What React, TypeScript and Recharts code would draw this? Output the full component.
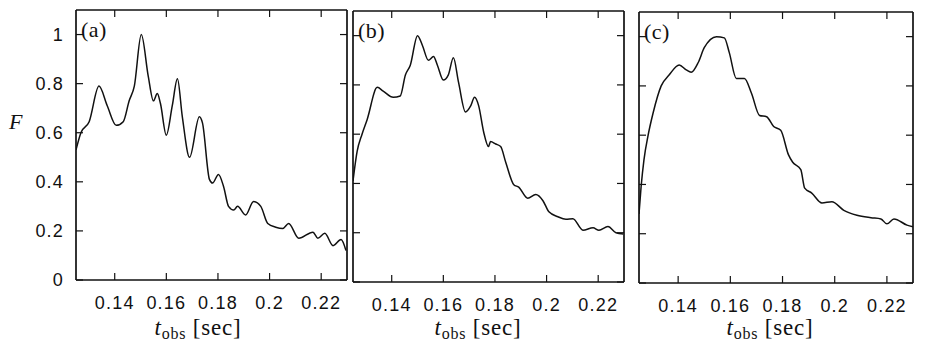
import React from "react";
import { LineChart, Line, XAxis, YAxis } from "recharts";

// panel (a)
const tA = [0.125, 0.1269, 0.1301, 0.1339, 0.1371, 0.1406, 0.1433, 0.1456, 0.1476, 0.1503, 0.153, 0.155, 0.1565, 0.1577, 0.16, 0.1623, 0.1643, 0.1662, 0.169, 0.1728, 0.174, 0.1767, 0.1779, 0.1802, 0.1822, 0.1841, 0.1861, 0.1876, 0.1907, 0.1938, 0.1966, 0.1993, 0.2024, 0.2051, 0.2074, 0.2113, 0.2168, 0.2187, 0.2214, 0.2246, 0.2277, 0.2296];
const fA = [0.53, 0.6, 0.645, 0.79, 0.71, 0.63, 0.645, 0.73, 0.79, 1.0, 0.83, 0.73, 0.76, 0.72, 0.59, 0.71, 0.82, 0.665, 0.5, 0.665, 0.64, 0.41, 0.395, 0.43, 0.38, 0.3, 0.285, 0.3, 0.265, 0.32, 0.3, 0.23, 0.215, 0.21, 0.23, 0.17, 0.195, 0.17, 0.19, 0.14, 0.165, 0.12];

// panel (b)
const tB = [0.125, 0.1266, 0.1285, 0.1305, 0.1344, 0.1367, 0.1406, 0.1433, 0.1453, 0.1472, 0.15, 0.1519, 0.1542, 0.1562, 0.1577, 0.16, 0.1619, 0.1639, 0.1659, 0.1686, 0.1706, 0.1721, 0.1737, 0.1756, 0.1775, 0.1783, 0.1803, 0.1822, 0.1842, 0.1873, 0.1892, 0.1927, 0.1958, 0.1986, 0.2009, 0.2044, 0.2075, 0.2102, 0.2141, 0.218, 0.2203, 0.2238, 0.2269, 0.2297];
const fB = [0.41, 0.53, 0.6, 0.66, 0.79, 0.775, 0.75, 0.755, 0.84, 0.88, 1.0, 0.96, 0.9, 0.915, 0.88, 0.82, 0.84, 0.91, 0.81, 0.69, 0.715, 0.75, 0.715, 0.61, 0.55, 0.57, 0.56, 0.55, 0.485, 0.395, 0.385, 0.34, 0.355, 0.33, 0.285, 0.265, 0.255, 0.257, 0.21, 0.22, 0.21, 0.225, 0.2, 0.195];

// panel (c)
const tC = [0.125, 0.1258, 0.1269, 0.1285, 0.1304, 0.1335, 0.1366, 0.1404, 0.1431, 0.145, 0.1477, 0.15, 0.1547, 0.1577, 0.1596, 0.1623, 0.1654, 0.1681, 0.1712, 0.1739, 0.1766, 0.1793, 0.1823, 0.1839, 0.187, 0.1885, 0.1912, 0.1951, 0.1989, 0.2035, 0.2085, 0.2139, 0.2177, 0.22, 0.2227, 0.2277, 0.23];
const fC = [0.28, 0.39, 0.5, 0.6, 0.69, 0.8, 0.845, 0.885, 0.865, 0.855, 0.895, 0.955, 1.0, 0.995, 0.935, 0.83, 0.83, 0.77, 0.68, 0.675, 0.635, 0.62, 0.52, 0.49, 0.46, 0.385, 0.365, 0.325, 0.33, 0.295, 0.275, 0.265, 0.26, 0.24, 0.26, 0.235, 0.228];

const xTicks = [0.14, 0.16, 0.18, 0.2, 0.22];
const yTicks = [0, 0.2, 0.4, 0.6, 0.8, 1];
const panelNames = ["(a)", "(b)", "(c)"];

const W = 926;
const H = 359;
const sans = "'Liberation Sans', Arial, sans-serif";
const serif = "'Liberation Serif', 'Times New Roman', serif";

const toRows = (t: number[], f: number[]) => t.map((v, i) => ({ t: v, f: f[i] }));

const panels = [
  { rows: toRows(tA, fA), left: 76, right: 346, top: 11, bottom: 280, yLabels: true },
  { rows: toRows(tB, fB), left: 353, right: 623, top: 12, bottom: 282, yLabels: false },
  { rows: toRows(tC, fC), left: 639, right: 912, top: 13, bottom: 283, yLabels: false },
];

const blank = () => "";
const axisLine = { stroke: "#111", strokeWidth: 1.7 };
const tickLine = { stroke: "#111", strokeWidth: 1.2 };
const tickStyle = { fill: "#111", fontSize: 18, fontFamily: sans, letterSpacing: 1.2 };

function Panel({ p }: { p: (typeof panels)[number] }) {
  // axes need a non-zero size to be drawn, so each takes 1px out of the margin
  return (
    <div style={{ position: "absolute", left: 0, top: 0 }}>
      <LineChart
        width={W}
        height={H}
        data={p.rows}
        margin={{ left: p.left - 1, right: W - p.right - 1, top: p.top - 1, bottom: H - p.bottom - 1 }}
      >
        <XAxis
          xAxisId="b"
          dataKey="t"
          type="number"
          domain={[0.125, 0.23]}
          allowDataOverflow
          ticks={xTicks}
          height={1}
          tickSize={-7}
          tickMargin={23}
          axisLine={axisLine}
          tickLine={tickLine}
          tick={tickStyle}
        />
        <XAxis
          xAxisId="t"
          orientation="top"
          mirror
          dataKey="t"
          type="number"
          domain={[0.125, 0.23]}
          allowDataOverflow
          ticks={xTicks}
          height={1}
          tickSize={7}
          tickFormatter={blank}
          axisLine={axisLine}
          tickLine={tickLine}
        />
        <YAxis
          yAxisId="l"
          type="number"
          domain={[0, 1.1]}
          allowDataOverflow
          ticks={yTicks}
          width={1}
          tickSize={-7}
          tickMargin={19}
          tickFormatter={p.yLabels ? undefined : blank}
          axisLine={axisLine}
          tickLine={tickLine}
          tick={tickStyle}
        />
        <YAxis
          yAxisId="r"
          orientation="right"
          mirror
          type="number"
          domain={[0, 1.1]}
          allowDataOverflow
          ticks={yTicks}
          width={1}
          tickSize={7}
          tickFormatter={blank}
          axisLine={axisLine}
          tickLine={tickLine}
        />
        <Line
          xAxisId="b"
          yAxisId="l"
          dataKey="f"
          type="monotone"
          stroke="#111"
          strokeWidth={1.5}
          dot={false}
          isAnimationActive={false}
        />
      </LineChart>
    </div>
  );
}

export default function App() {
  const labelCenters = [198, 478, 770];
  return (
    <div style={{ position: "absolute", left: 0, top: 0, width: W, height: H, background: "#fff" }}>
      {panels.map((p, i) => (
        <Panel key={i} p={p} />
      ))}
      {panels.map((p, i) => (
        <div
          key={"n" + i}
          style={{
            position: "absolute",
            left: p.left + 5,
            top: p.top + 7,
            fontFamily: serif,
            fontSize: 22,
            lineHeight: "24px",
            letterSpacing: 0.5,
            color: "#111",
          }}
        >
          {panelNames[i]}
        </div>
      ))}
      {labelCenters.map((c, i) => (
        <div
          key={"x" + i}
          style={{
            position: "absolute",
            left: c - 100,
            width: 200,
            top: 315,
            textAlign: "center",
            fontFamily: serif,
            fontSize: 23,
            lineHeight: "26px",
            letterSpacing: 0.8,
            color: "#111",
          }}
        >
          <i>t</i>
          <span style={{ fontSize: 16, position: "relative", top: 4 }}>obs</span>
          <span> [sec]</span>
        </div>
      ))}
      <div
        style={{
          position: "absolute",
          left: 9,
          top: 110,
          fontFamily: serif,
          fontStyle: "italic",
          fontSize: 22,
          lineHeight: "24px",
          color: "#111",
        }}
      >
        F
      </div>
    </div>
  );
}
